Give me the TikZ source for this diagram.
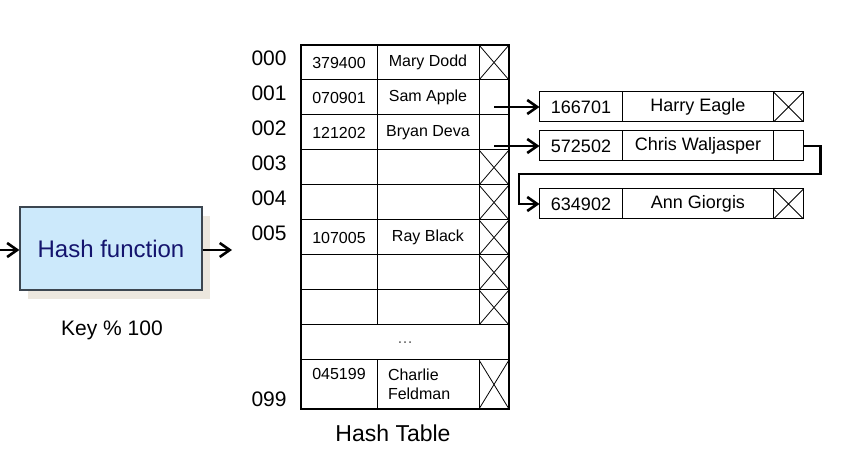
\documentclass[tikz,border=0pt]{standalone}
\usepackage{fontspec}
\setmainfont{Liberation Sans}
\usetikzlibrary{arrows.meta,positioning,shadows}
\definecolor{hfblue}{RGB}{204,233,251}
\definecolor{hfedge}{RGB}{60,70,80}
\definecolor{hftext}{RGB}{20,20,110}
\definecolor{hfshadow}{RGB}{236,231,222}
\definecolor{dotgray}{RGB}{90,90,90}

\begin{document}
\begin{tikzpicture}[x=0.5pt, y=-0.5pt,
  cell/.style={draw, line width=0.5pt, minimum height=17.5pt, inner sep=0pt, outer sep=0pt, font=\fontsize{8}{9.5}\selectfont},
  keycell/.style={cell, minimum width=38pt},
  namecell/.style={cell, minimum width=51pt},
  ptrcell/.style={cell, minimum width=15pt},
  ptrnull/.style={path picture={\draw[line width=0.4pt] (path picture bounding box.north west) -- (path picture bounding box.south east) (path picture bounding box.south west) -- (path picture bounding box.north east);}},
  ptrlink/.style={},
  chain/.style={draw, line width=0.5pt, minimum height=15pt, inner sep=0pt, outer sep=0pt, font=\fontsize{9}{11}\selectfont},
  rowlab/.style={anchor=east, inner sep=0pt, font=\fontsize{10.5}{12}\selectfont},
  arr/.style={line width=1.3pt, -{Straight Barb[length=5pt,width=7pt]}},
  hashbox/.style={draw=hfedge, line width=0.6pt, fill=hfblue, minimum width=91pt, minimum height=41.5pt, text=hftext, font=\fontsize{12}{14}\selectfont, drop shadow={shadow xshift=4pt, shadow yshift=-4.5pt, fill=hfshadow, opacity=1}}]
  \useasboundingbox (0,0) rectangle (847,470);

  %--- Hash function ---
  \node[hashbox] (hash) at (111,248.5) {Hash function};
  \node[font=\fontsize{10.5}{12}\selectfont] (hashlab) at (112,330) {Key \% 100};
  \coordinate (in) at (0,250);
  \coordinate (out) at (232,250);
  \draw[arr] (in) -- (in -| hash.west);
  \draw[arr] (out -| hash.east) -- (out);

  %--- Hash table ---
  \foreach \r/\k/\n/\s in {0/379400/Mary Dodd/ptrnull, 1/070901/Sam Apple/ptrlink, 2/121202/Bryan Deva/ptrlink, 3/ / /ptrnull, 4/ / /ptrnull, 5/107005/Ray Black/ptrnull, 6/ / /ptrnull, 7/ / /ptrnull} {
    \node[keycell, anchor=north west] (k\r) at (301,{45+35*\r}) {\k};
    \node[namecell, right=0pt of k\r] (n\r) {\n};
    \node[ptrcell, \s, right=0pt of n\r] (p\r) {};
  }
  \node[cell, minimum width=104pt, anchor=north west, text=dotgray] (dots) at (301,325) {\dots};
  \node[keycell, anchor=north west, minimum height=24.5pt, text height=6pt, text depth=10.5pt] (k99) at (301,360) {045199};
  \node[namecell, minimum height=24.5pt, right=0pt of k99, text width=40pt, align=left] (n99) {Charlie\\Feldman};
  \node[ptrcell, ptrnull, minimum height=24.5pt, right=0pt of n99] (p99) {};
  \draw[line width=1.3pt] (k0.north west) rectangle (p99.south east);

  % row numbers
  \foreach \r in {0,...,5}
    \node[rowlab] (l\r) at (287,{58+35*\r}) {00\r};
  \node[rowlab] (l99) at (287,399) {099};
  \node[font=\fontsize{11.5}{13}\selectfont] (tablab) at (393,433) {Hash Table};

  %--- Chains ---
  \node[chain, minimum width=41.5pt, anchor=north west] (c1k) at (539.5,92) {166701};
  \node[chain, minimum width=75.5pt, right=0pt of c1k] (c1n) {Harry Eagle};
  \node[chain, minimum width=15pt, ptrnull, right=0pt of c1n] (c1p) {};

  \node[chain, minimum width=41.5pt, anchor=north west] (c2k) at (539.5,131) {572502};
  \node[chain, minimum width=75.5pt, right=0pt of c2k] (c2n) {Chris Waljasper};
  \node[chain, minimum width=15pt, right=0pt of c2n] (c2p) {};

  \node[chain, minimum width=41.5pt, anchor=north west] (c3k) at (539.5,189) {634902};
  \node[chain, minimum width=75.5pt, right=0pt of c3k] (c3n) {Ann Giorgis};
  \node[chain, minimum width=15pt, ptrnull, right=0pt of c3n] (c3p) {};

  \draw[arr] (p1.center |- c1k.west) -- (c1k.west);
  \draw[arr] (p2.center |- c2k.west) -- (c2k.west);
  \coordinate (bend) at (519,174);
  \draw[arr] (c2p.east) -- ++(17,0) |- (bend) |- (c3k.west);
\end{tikzpicture}
\end{document}
